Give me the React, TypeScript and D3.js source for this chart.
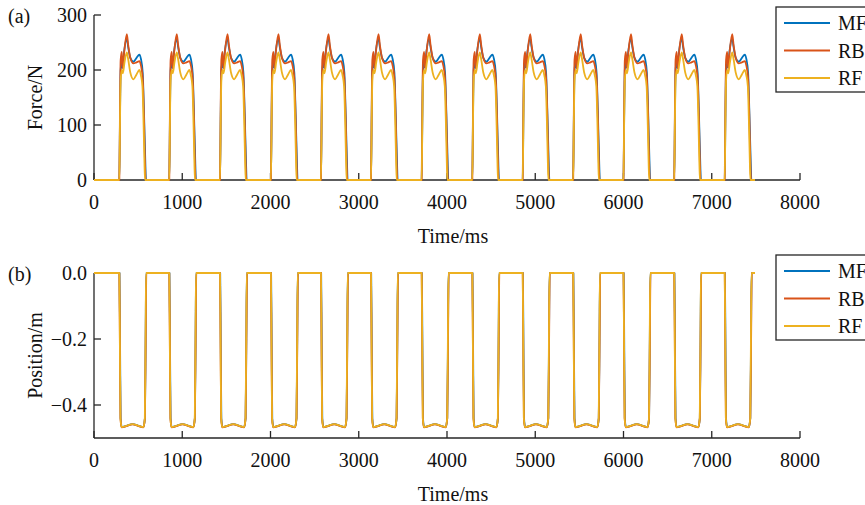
import React from 'react';
import * as d3 from 'd3';

// start time (ms) of each stance pulse
const cycleStarts = [287, 853, 1428, 2005, 2572, 3139, 3713, 4287, 4858, 5430, 6000, 6575, 7147];
const endTime = 7490;

// one force pulse per leg: [offset ms, force N]
const mfForce = [[0, 0], [8, 120], [15, 200], [25, 212], [35, 205], [55, 235], [85, 257], [100, 242], [125, 222], [160, 215], [195, 222], [228, 228], [245, 220], [265, 195], [280, 120], [295, 30], [302, 0]];
const rbForce = [[0, 0], [8, 140], [15, 218], [28, 233], [38, 203], [55, 232], [85, 265], [100, 246], [125, 222], [160, 212], [195, 214], [228, 216], [245, 208], [265, 185], [280, 110], [291, 30], [298, 0]];
const rfForce = [[0, 0], [8, 110], [15, 180], [28, 200], [40, 194], [60, 215], [85, 232], [100, 220], [125, 195], [160, 183], [195, 192], [228, 200], [245, 190], [262, 170], [275, 100], [285, 30], [291, 0]];

// one position dip per leg: [offset ms, position m]
const mfPos = [[2, 0], [8, -0.2], [15, -0.44], [28, -0.467], [80, -0.463], [150, -0.458], [220, -0.463], [272, -0.467], [290, -0.44], [298, -0.2], [304, 0]];
const rbPos = [[0, 0], [6, -0.2], [13, -0.44], [26, -0.468], [80, -0.464], [150, -0.459], [220, -0.464], [272, -0.468], [290, -0.44], [299, -0.2], [306, 0]];
const rfPos = [[0, 0], [6, -0.2], [13, -0.44], [26, -0.467], [80, -0.463], [150, -0.458], [220, -0.463], [272, -0.467], [289, -0.44], [297, -0.2], [303, 0]];

const legs = ['MF', 'RB', 'RF'];
const colors = ['#0072BD', '#D95319', '#EDB120'];
const xTicks = [0, 1000, 2000, 3000, 4000, 5000, 6000, 7000, 8000];
const forceTicks = [0, 100, 200, 300];
const posTicks = [0, -0.2, -0.4];

const repeatPulse = (pulse) => {
    const pts = [[0, 0]];
    cycleStarts.forEach(s => pulse.forEach(p => pts.push([s + p[0], p[1]])));
    pts.push([endTime, 0]);
    return pts;
};

const font = '"Liberation Serif", "Times New Roman", serif';

const drawPanel = (svg, opts) => {
    const { top, bottom, domain, ticks, fmt, series, label, tag, legendTop } = opts;
    const x = d3.scaleLinear().domain([0, 8000]).range([94, 800]);
    const y = d3.scaleLinear().domain(domain).range([bottom, top]);
    const axisColor = '#262626';
    const g = svg.append('g');

    // axes, MATLAB box-off look with ticks inside
    g.append('line').attr('x1', x(0)).attr('x2', x(8000)).attr('y1', bottom).attr('y2', bottom)
        .attr('stroke', axisColor).attr('stroke-width', 1.3);
    g.append('line').attr('x1', x(0)).attr('x2', x(0)).attr('y1', top).attr('y2', bottom)
        .attr('stroke', axisColor).attr('stroke-width', 1.3);

    xTicks.forEach(t => {
        g.append('line').attr('x1', x(t)).attr('x2', x(t)).attr('y1', bottom).attr('y2', bottom - 7)
            .attr('stroke', axisColor).attr('stroke-width', 1.3);
        g.append('text').attr('x', x(t)).attr('y', bottom + 29).attr('text-anchor', 'middle')
            .attr('font-family', font).attr('font-size', 20).attr('fill', '#111').text(t);
    });
    ticks.forEach(t => {
        g.append('line').attr('x1', x(0)).attr('x2', x(0) + 7).attr('y1', y(t)).attr('y2', y(t))
            .attr('stroke', axisColor).attr('stroke-width', 1.3);
        g.append('text').attr('x', x(0) - 7).attr('y', y(t) + 7).attr('text-anchor', 'end')
            .attr('font-family', font).attr('font-size', 20).attr('fill', '#111').text(fmt(t));
    });

    g.append('text').attr('x', 453).attr('y', bottom + 63).attr('text-anchor', 'middle')
        .attr('font-family', font).attr('font-size', 20).attr('fill', '#111').text('Time/ms');
    g.append('text').attr('transform', `translate(42,${(top + bottom) / 2}) rotate(-90)`)
        .attr('text-anchor', 'middle').attr('font-family', font).attr('font-size', 20)
        .attr('fill', '#111').text(label);
    g.append('text').attr('x', 8).attr('y', top + 8).attr('font-family', font)
        .attr('font-size', 20).attr('fill', '#111').text(tag);

    const line = d3.line().curve(d3.curveMonotoneX).x(d => x(d[0])).y(d => y(d[1]));
    series.forEach((s, i) => {
        g.append('path').datum(s).attr('fill', 'none').attr('stroke', colors[i])
            .attr('stroke-width', 1.8).attr('stroke-linejoin', 'round').attr('d', line);
    });

    // legend (runs off the right edge, as in the source figure)
    const lg = g.append('g');
    lg.append('rect').attr('x', 776).attr('y', legendTop).attr('width', 120).attr('height', 85)
        .attr('fill', 'white').attr('stroke', axisColor).attr('stroke-width', 1.3);
    legs.forEach((k, i) => {
        const ly = legendTop + 16 + i * 27.5;
        lg.append('line').attr('x1', 784).attr('x2', 830).attr('y1', ly).attr('y2', ly)
            .attr('stroke', colors[i]).attr('stroke-width', 1.8);
        lg.append('text').attr('x', 838).attr('y', ly + 7).attr('font-family', font)
            .attr('font-size', 20).attr('fill', '#111').text(k);
    });
};

const plotChart = (ref) => {
    d3.select(ref.current).selectAll('*').remove();
    const svg = d3.select(ref.current);

    drawPanel(svg, {
        top: 15, bottom: 180, domain: [0, 300], ticks: forceTicks, fmt: d => String(d),
        series: [repeatPulse(mfForce), repeatPulse(rbForce), repeatPulse(rfForce)],
        label: 'Force/N', tag: '(a)', legendTop: 7
    });
    drawPanel(svg, {
        top: 273, bottom: 438, domain: [-0.5, 0], ticks: posTicks,
        fmt: d => d3.format('.1f')(d).replace('-', '\u2212'),
        series: [repeatPulse(mfPos), repeatPulse(rbPos), repeatPulse(rfPos)],
        label: 'Position/m', tag: '(b)', legendTop: 255
    });
};

function App() {
    const ref = React.useRef(null);

    React.useEffect(() => {
        plotChart(ref);
    }, []);

    return (
        <div style={{ position: 'fixed', left: 0, top: 0, width: 865, height: 505, overflow: 'hidden', background: 'white' }}>
            <svg ref={ref} width={865} height={505} />
        </div>
    );
}

export default App;
